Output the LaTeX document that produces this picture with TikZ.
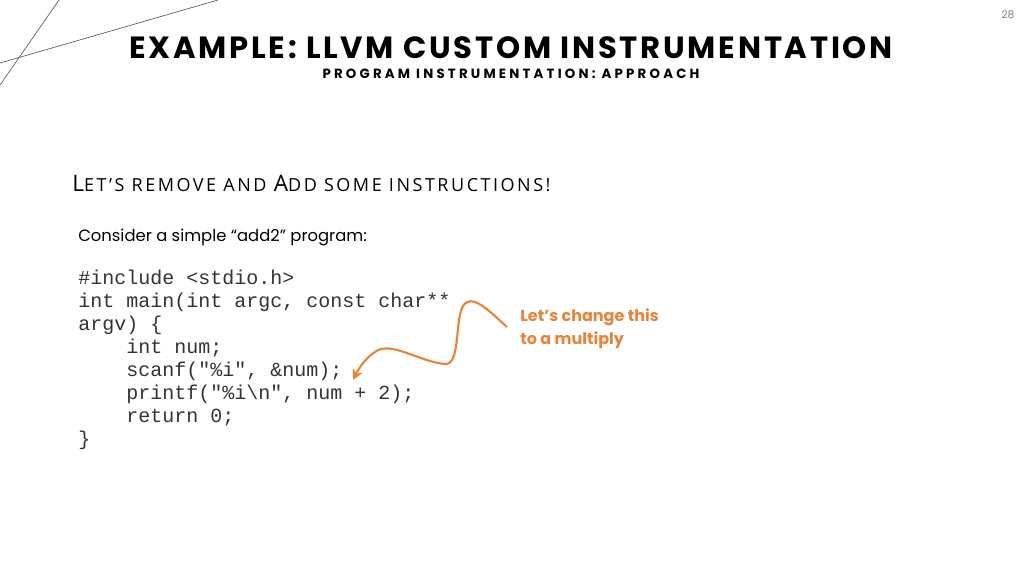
\documentclass[tikz,border=0pt]{standalone}
\usepackage{fontspec}
\setmainfont{Poppins}
\newfontfamily\codefont{Liberation Mono}
\newfontfamily\titlefont[LetterSpace=9]{Poppins}
\newfontfamily\subfont[LetterSpace=24]{Poppins}
\newfontfamily\headfont[LetterSpace=14]{Open Sans}
\usetikzlibrary{arrows.meta}
\definecolor{accent}{HTML}{E8833A}
\tikzset{
  codeline/.style={anchor=base west,inner sep=0,text=black!80,font=\codefont\fontsize{15}{18}\selectfont},
  note/.style={anchor=base west,inner sep=0,text=accent,font=\bfseries\fontsize{12}{14}\selectfont}
}
\begin{document}
\begin{tikzpicture}[x=0.75pt,y=-0.75pt]
  % Boundary
  \path[use as bounding box] (0,0) rectangle (1024,576);
  % Corner lines
  \draw[gray!70!black,line width=0.5pt] (0,63) -- (218,0);
  \draw[gray!70!black,line width=0.5pt] (0,85) -- (59,0);
  % Titles
  \node[inner sep=0,font=\fontsize{8}{8}\selectfont,text=gray] (page) at (1008,15) {28};
  \node[anchor=base,inner sep=0,font=\titlefont\bfseries\fontsize{23}{26}\selectfont] (title) at (511,58) {EXAMPLE: LLVM CUSTOM INSTRUMENTATION};
  \node[anchor=base,inner sep=0,font=\subfont\bfseries\fontsize{10}{12}\selectfont] (subtitle) at (511,78) {PROGRAM INSTRUMENTATION: APPROACH};
  \node[anchor=base west,inner sep=0,font=\headfont\fontsize{13.5}{16}\selectfont] (head) at (72,191)
    {{\fontsize{17}{20}\selectfont L}ET’S REMOVE AND {\fontsize{17}{20}\selectfont A}DD SOME INSTRUCTIONS!};
  \node[anchor=base west,inner sep=0,font=\fontsize{12.3}{14}\selectfont] (intro) at (78,241) {Consider a simple “add2” program:};
  % Code
  \node[codeline] (c1) at (78,284) {\#include <stdio.h>};
  \node[codeline] (c2) at (78,307) {int main(int argc, const char**};
  \node[codeline] (c3) at (78,330) {argv) \{};
  \node[codeline] (c4) at (78,353) {\ \ \ \ int num;};
  \node[codeline] (c5) at (78,376) {\ \ \ \ scanf("\%i", \&num);};
  \node[codeline] (c6) at (78,399) {\ \ \ \ printf("\%i\textbackslash n", num + 2);};
  \node[codeline] (c7) at (78,422) {\ \ \ \ return 0;};
  \node[codeline] (c8) at (78,445) {\}};
  % Note
  \node[note] (n1) at (520,321) {Let’s change this};
  \node[note] (n2) at (520,344) {to a multiply};
  \coordinate (tail) at (507,327);
  \coordinate (tip) at (353,380);
  \draw[accent,line width=1.6pt,-{Stealth[length=8pt,width=8pt]}]
    (tail) .. controls (490,312) and (470,290) .. (462,308)
    .. controls (455,325) and (460,365) .. (445,364)
    .. controls (420,362) and (390,340) .. (375,352)
    .. controls (365,358) and (358,370) .. (tip);
\end{tikzpicture}
\end{document}
